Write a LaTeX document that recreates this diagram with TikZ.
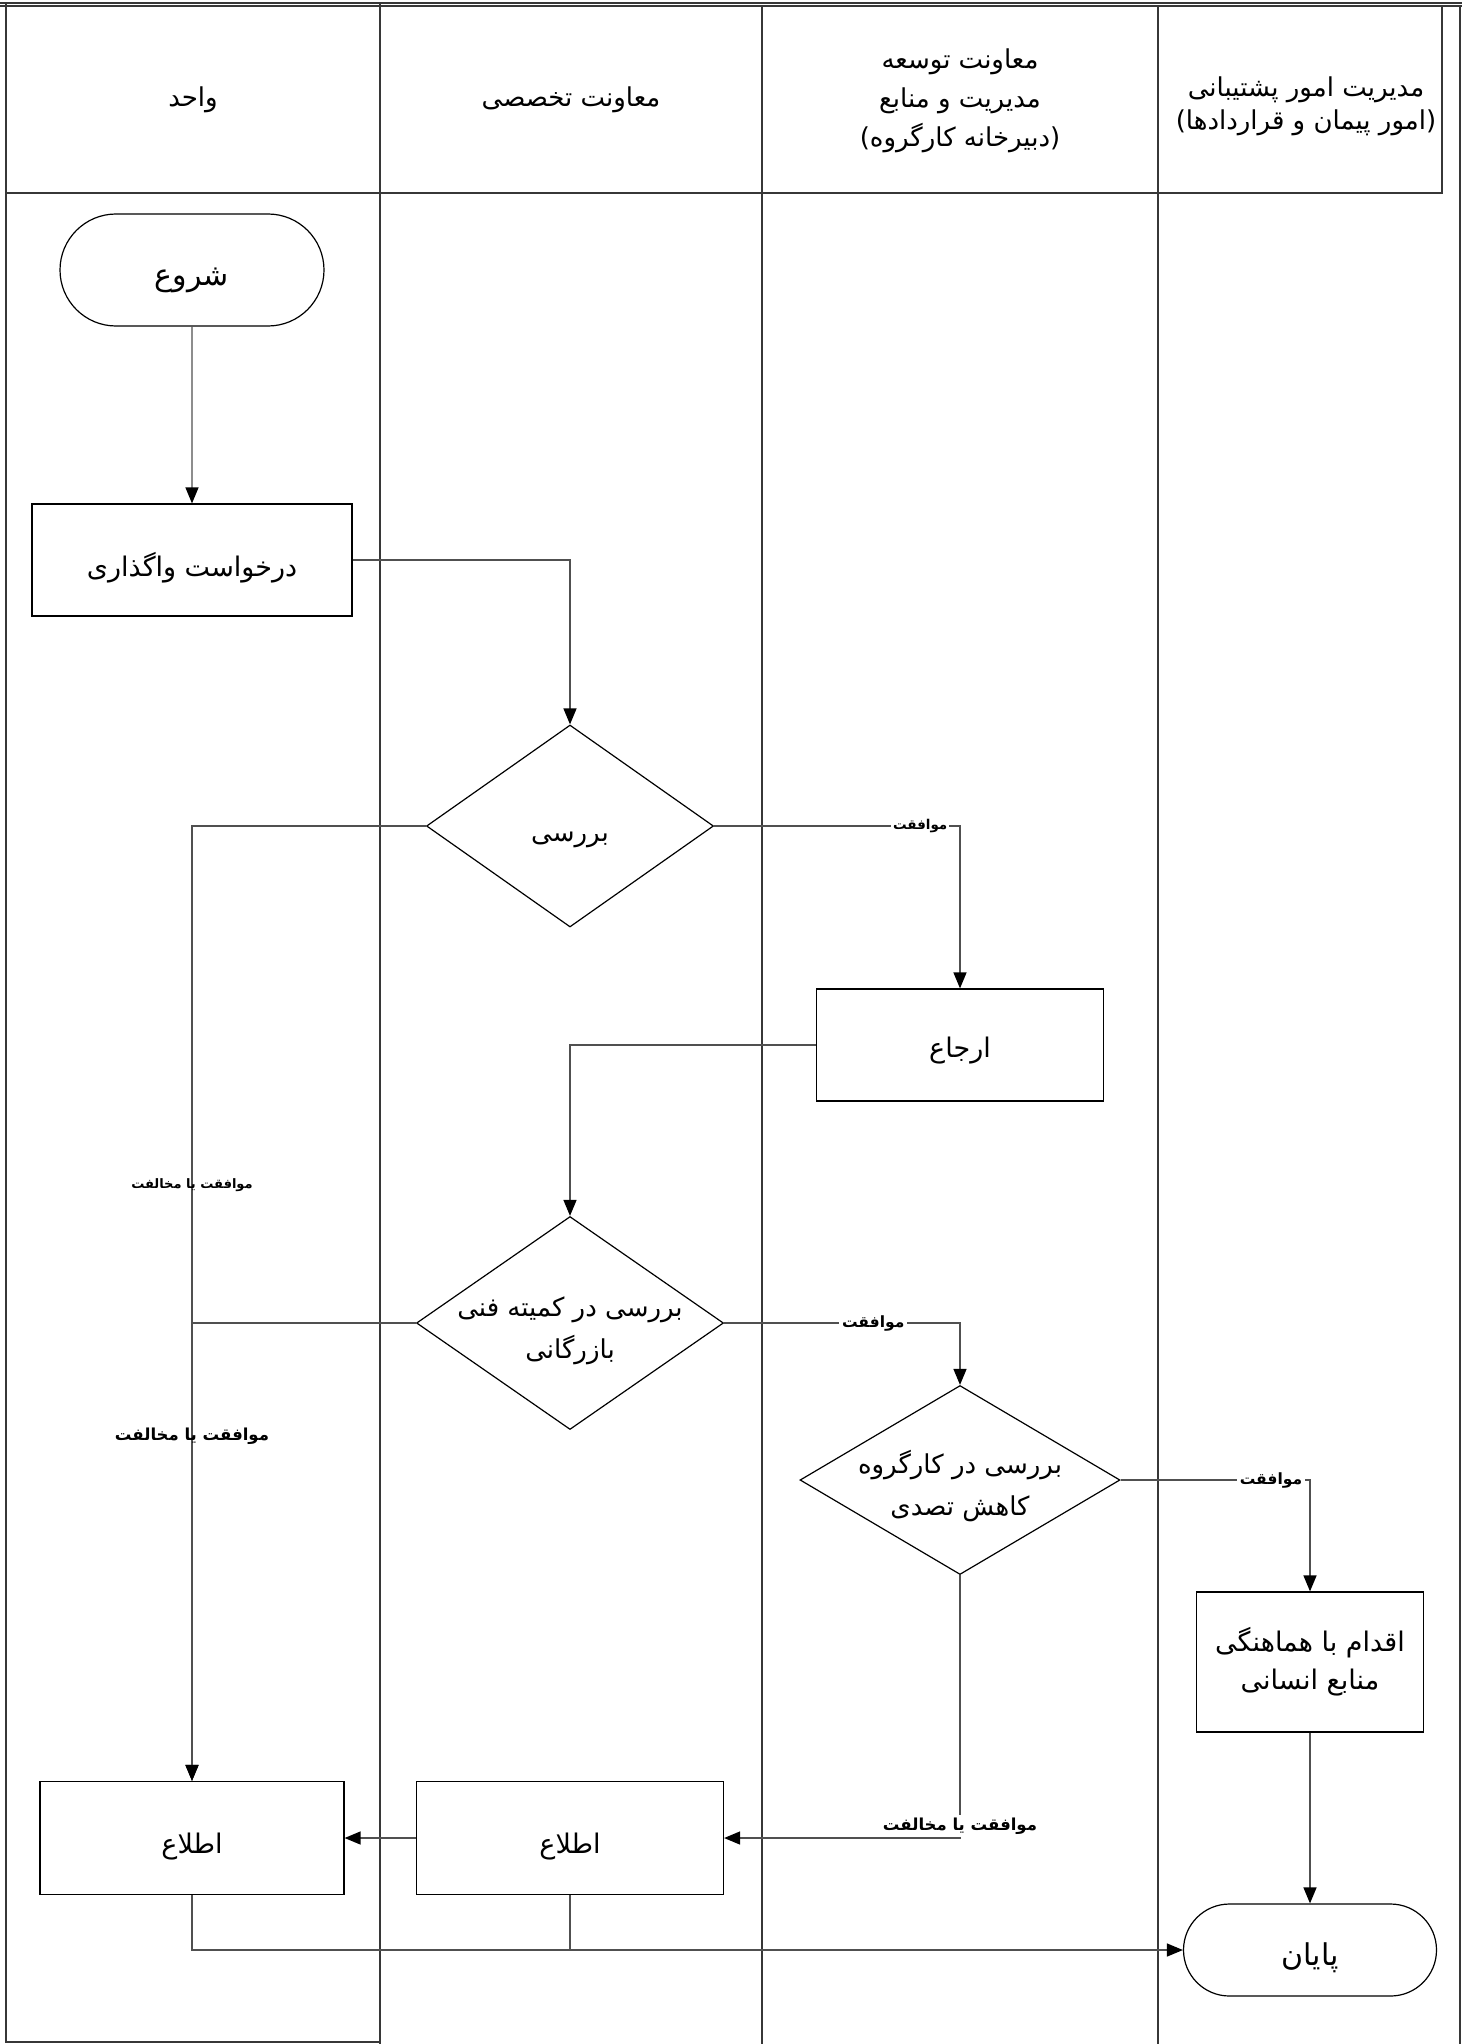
\documentclass[tikz,border=0pt]{standalone}
\usepackage{fontspec}
\usepackage{tikz}
\usetikzlibrary{positioning, arrows.meta, shapes.geometric, shapes.misc}
\newfontfamily\pers[Script=Arabic]{DejaVu Sans}
\TeXXeTstate=1
\definecolor{gris}{RGB}{80, 80, 80}
\definecolor{marco}{RGB}{55, 55, 55}
\tikzset{
    head/.style={align=center, inner sep=0pt, font=\pers\fontsize{26}{39}\selectfont},
    term/.style={draw, rounded rectangle, inner sep=0pt, line width=1.2pt, text height=30pt, text depth=0pt, font=\pers\fontsize{30}{36}\selectfont},
    proc/.style={draw, rectangle, inner sep=0pt, line width=1.2pt, align=center, font=\pers\fontsize{27}{38}\selectfont},
    oneline/.style={text height=#1, text depth=0pt},
    oneline/.default=30pt,
    deci/.style={draw, diamond, inner sep=0pt, line width=1.2pt},
    dtext/.style={align=center, inner sep=0pt, font=\pers\fontsize{26}{42}\selectfont},
    conn/.style={-{Triangle[length=16pt, width=13pt, color=black]}, gris, line width=1.4pt},
    line/.style={-, gris, line width=1.4pt},
    lbl/.style={fill=white, inner sep=2pt, text=black, font=\pers\bfseries\fontsize{13.5}{16}\selectfont},
    lblBig/.style={fill=white, inner sep=3pt, text=black, font=\pers\bfseries\fontsize{15.5}{18}\selectfont},
    lblv/.style={inner sep=0pt, text=black, font=\pers\bfseries\fontsize{13}{16}\selectfont},
    lblvBig/.style={inner sep=0pt, text=black, font=\pers\bfseries\fontsize{16.5}{20}\selectfont},
    lane/.style={marco, line width=2pt},
}
\begin{document}
\begin{tikzpicture}[x=1pt, y=-1pt]
    \useasboundingbox (0,0) rectangle (1462,2044);
    % lanes
    \draw[lane, line width=1.2pt] (0,3) -- (1462,3);
    \draw[lane, line width=1.2pt] (0,6) -- (1462,6);
    \draw[lane] (6,3) -- (6,2042) -- (380,2042);
    \draw[lane] (380,3) -- (380,2044);
    \draw[lane] (762,6) -- (762,2044);
    \draw[lane] (1158,6) -- (1158,2044);
    \draw[lane] (1460,6) -- (1460,2044);
    \draw[lane] (6,193) -- (1442,193) -- (1442,6);

    \node[head] (h1) at (193,100) {\beginR واحد\endR};
    \node[head] (h2) at (571,100) {\beginR معاونت تخصصی\endR};
    \node[head] (h3) at (960,101) {\beginR معاونت توسعه\endR\\\beginR مدیریت و منابع\endR\\)\beginR دبیرخانه کارگروه\endR(};
    \node[head, font=\pers\fontsize{26}{33}\selectfont] (h4) at (1306,106) {\beginR مدیریت امور پشتیبانی\endR\\)\beginR امور پیمان و قراردادها\endR(};

    % nodes
    \node[term, minimum width=264, minimum height=112] (start) at (192,270) {\beginR شروع\endR};
    \node[proc, oneline=32pt, minimum width=320, minimum height=112] (req) at (192,560) {\beginR درخواست واگذاری\endR};
    \node[deci, minimum width=287, minimum height=202,
        label={[dtext, yshift=-14pt]center:{\beginR بررسی\endR}}] (d1) at (570,826) {};
    \node[proc, oneline=24pt, minimum width=287, minimum height=112] (erja) at (960,1045) {\beginR ارجاع\endR};
    \node[deci, minimum width=307, minimum height=213,
        label={[dtext, yshift=-8pt]center:{\beginR بررسی در کمیته فنی\endR\\\beginR بازرگانی\endR}}] (d2) at (570,1323) {};
    \node[deci, minimum width=320, minimum height=189,
        label={[dtext, yshift=-6pt]center:{\beginR بررسی در کارگروه\endR\\\beginR کاهش تصدی\endR}}] (d3) at (960,1480) {};
    \node[proc, minimum width=227, minimum height=140] (act) at (1310,1662) {\beginR اقدام با هماهنگی\endR\\\beginR منابع انسانی\endR};
    \node[term, minimum width=253, minimum height=92] (end) at (1310,1950) {\beginR پایان\endR};
    \node[proc, oneline, minimum width=307, minimum height=113] (inf2) at (570,1838) {\beginR اطلاع\endR};
    \node[proc, oneline, minimum width=304, minimum height=113] (inf1) at (192,1838) {\beginR اطلاع\endR};

    % connectors
    \draw[conn] (start) -- (req);
    \draw[conn] (req.east) -| (d1.north);
    \draw[conn] (d1.east) -| node[lbl, pos=0.419] {\beginR موافقت\endR} (erja.north);
    \draw[conn] (d1.west) -| node[lblv, pos=0.688] {\beginR موافقت یا مخالفت\endR} (inf1.north);
    \draw[conn] (erja.west) -| (d2.north);
    \draw[conn] (d2.east) -| node[lblBig, pos=0.316] {\beginR موافقت\endR} (d3.north);
    \draw[conn] (d2.west) -| node[lblvBig, pos=0.624] {\beginR موافقت یا مخالفت\endR} (inf1.north);
    \draw[conn] (d3.east) -| node[lblBig, pos=0.397] {\beginR موافقت\endR} (act.north);
    \draw[conn] (act) -- (end);
    \draw[conn] (d3.south) |- node[lblBig, font=\pers\bfseries\fontsize{16.5}{20}\selectfont, pos=0.5, yshift=12pt] {\beginR موافقت یا مخالفت\endR} (inf2.east);
    \draw[conn] (inf2) -- (inf1);
    \draw[conn] (inf1.south) |- (end.west);
    \draw[line] (inf2.south) -- (inf2.south |- end.west);
\end{tikzpicture}
\end{document}
